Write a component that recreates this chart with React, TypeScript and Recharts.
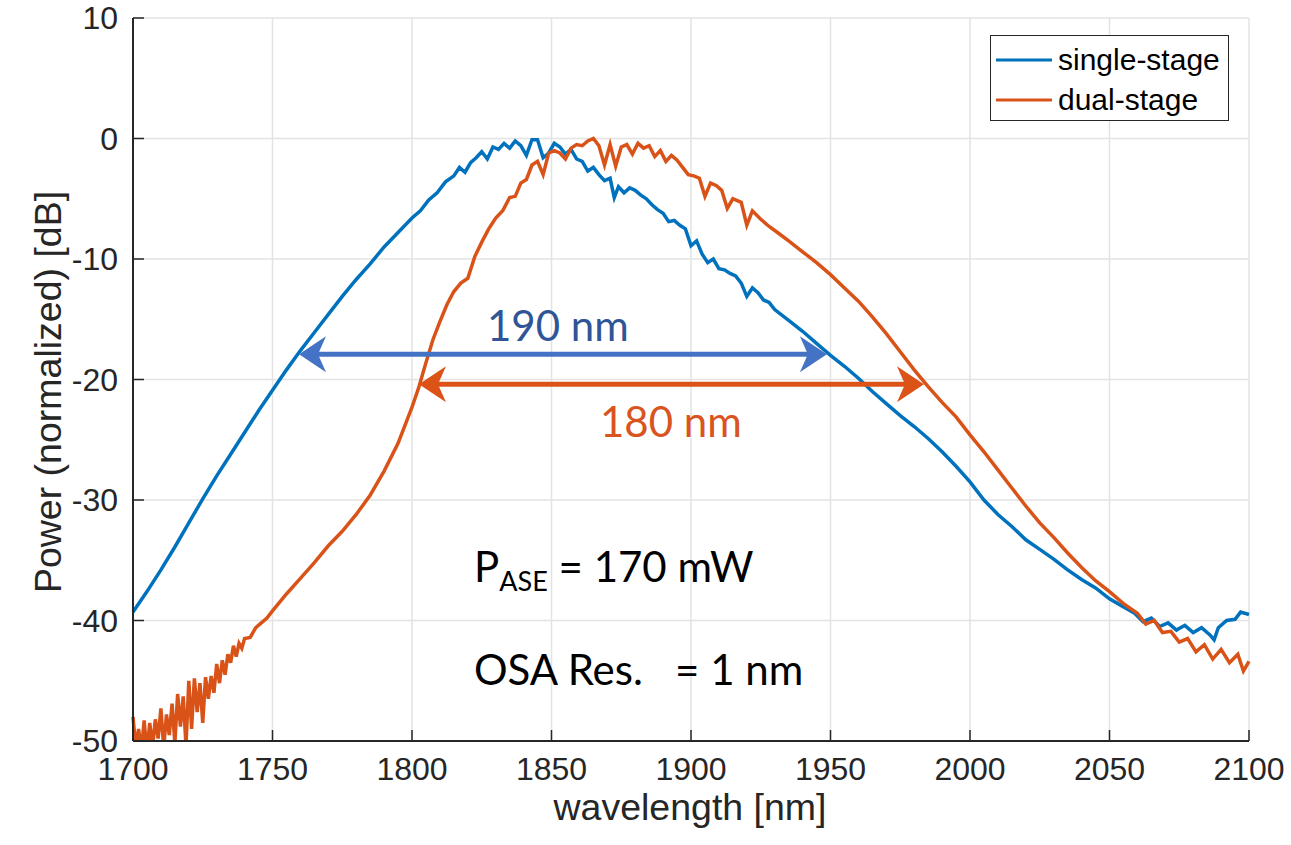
import React from "react";
import { LineChart, Line, XAxis, YAxis, CartesianGrid, ReferenceLine } from "recharts";

const xTicks = [1700, 1750, 1800, 1850, 1900, 1950, 2000, 2050, 2100];
const yTicks = [-50, -40, -30, -20, -10, 0, 10];

// [wavelength nm, power dB]
const singleStage: [number, number][] = [
  [1700, -39.3], [1705, -37.6], [1710, -35.8], [1715, -33.9], [1720, -31.9], [1725, -29.9],
  [1730, -28.0], [1735, -26.2], [1740, -24.4], [1745, -22.6], [1750, -20.9], [1755, -19.2],
  [1760, -17.6], [1765, -16.1], [1770, -14.6], [1775, -13.1], [1780, -11.7], [1785, -10.4],
  [1790, -9.0], [1795, -7.8], [1800, -6.6], [1803, -6.0], [1806, -5.1], [1809, -4.5],
  [1812, -3.6], [1815, -3.1], [1817, -2.4], [1819, -2.8], [1821, -2.0], [1823, -1.6],
  [1825, -1.1], [1827, -1.7], [1829, -0.7], [1831, -0.9], [1833, -0.4], [1835, -0.8],
  [1837, -0.2], [1839, -0.6], [1841, -1.4], [1843, -0.1], [1845, -0.1], [1847, -1.6],
  [1849, -1.2], [1851, -0.4], [1853, -0.7], [1855, -1.3], [1857, -0.9], [1859, -1.7],
  [1861, -1.9], [1863, -2.7], [1865, -2.4], [1867, -3.0], [1869, -3.5], [1871, -3.3],
  [1872.5, -4.9], [1874, -4.0], [1876, -4.5], [1878, -4.1], [1880, -4.3], [1882, -4.7],
  [1884, -5.0], [1886, -5.5], [1888, -5.9], [1890, -6.2], [1892, -6.9], [1894, -6.8],
  [1896, -7.2], [1898, -7.5], [1900, -8.9], [1902, -8.5], [1904, -9.6], [1906, -10.3],
  [1908, -10.0], [1910, -10.8], [1912, -10.9], [1914, -11.2], [1916, -11.4], [1918, -12.0],
  [1920, -13.1], [1922, -12.4], [1924, -12.8], [1926, -13.4], [1928, -13.6], [1930, -14.2],
  [1935, -15.1], [1940, -16.0], [1945, -17.0], [1950, -18.0], [1955, -18.9], [1960, -19.9],
  [1965, -21.0], [1970, -22.0], [1975, -23.0], [1980, -23.9], [1985, -24.9], [1990, -26.0],
  [1995, -27.2], [2000, -28.5], [2005, -30.0], [2010, -31.2], [2015, -32.2], [2020, -33.3],
  [2025, -34.1], [2030, -34.9], [2035, -35.8], [2040, -36.6], [2045, -37.3], [2050, -38.2],
  [2053, -38.6], [2056, -39.0], [2059, -39.4], [2062, -40.1], [2065, -39.8], [2068, -40.5],
  [2071, -40.2], [2074, -40.8], [2077, -40.4], [2080, -41.0], [2083, -40.6], [2086, -41.2],
  [2087.5, -41.6], [2089, -40.6], [2092, -40.0], [2095, -39.9], [2097, -39.3], [2100, -39.5],
];

const dualStage: [number, number][] = [
  [1700, -48.0], [1701, -50.5], [1702, -49.0], [1703, -50.8], [1704, -48.3], [1705, -51.0],
  [1706, -48.5], [1707, -50.5], [1708, -48.2], [1709, -49.8], [1710, -47.3], [1711, -50.6],
  [1712, -47.8], [1713, -49.5], [1714, -46.9], [1715, -50.2], [1716, -46.1], [1717, -48.8],
  [1718, -46.3], [1719, -50.4], [1720, -45.0], [1721, -49.0], [1722, -44.8], [1723, -47.6],
  [1724, -45.2], [1725, -48.5], [1726, -44.7], [1727, -46.5], [1728, -44.6], [1729, -46.0],
  [1730, -43.6], [1731, -45.2], [1732, -43.3], [1733, -44.5], [1734, -42.8], [1735, -43.5],
  [1736, -42.1], [1737, -43.0], [1738, -41.9], [1739, -42.3], [1740, -41.5], [1742, -41.4],
  [1744, -40.6], [1746, -40.2], [1748, -39.8], [1750, -39.2], [1755, -37.8], [1760, -36.5],
  [1765, -35.2], [1770, -33.8], [1775, -32.6], [1780, -31.2], [1785, -29.6], [1790, -27.6],
  [1795, -25.3], [1800, -22.3], [1802.5, -20.6], [1805, -18.6], [1807.5, -16.7], [1810, -15.2],
  [1812.5, -13.8], [1815, -12.7], [1817.5, -12.0], [1820, -11.6], [1822.5, -9.8], [1825, -8.6],
  [1827.5, -7.5], [1830, -6.6], [1832.5, -6.0], [1835, -4.9], [1837, -4.8], [1839, -3.7],
  [1841, -3.4], [1843, -2.2], [1845, -1.9], [1847, -3.0], [1849, -1.2], [1851, -1.0],
  [1853, -1.2], [1855, -1.7], [1857, -0.8], [1859, -0.5], [1861, -0.6], [1863, -0.2],
  [1865, 0.0], [1867, -0.6], [1869, -2.2], [1871, -0.5], [1873, -2.3], [1875, -0.7],
  [1877, -0.5], [1879, -1.3], [1881, -0.4], [1883, -0.8], [1885, -0.6], [1887, -1.5],
  [1889, -1.0], [1891, -1.9], [1893, -1.4], [1895, -1.8], [1897, -2.4], [1899, -3.0],
  [1901, -3.1], [1903, -3.3], [1905, -4.8], [1907, -3.7], [1909, -3.9], [1911, -4.3],
  [1913, -5.8], [1915, -5.0], [1918, -5.3], [1920, -7.2], [1922, -6.0], [1925, -6.7],
  [1928, -7.3], [1931, -7.8], [1935, -8.5], [1940, -9.4], [1945, -10.3], [1950, -11.3],
  [1955, -12.4], [1960, -13.5], [1965, -14.8], [1970, -16.2], [1975, -17.7], [1980, -19.2],
  [1985, -20.6], [1990, -21.9], [1995, -23.1], [2000, -24.6], [2005, -26.0], [2010, -27.5],
  [2015, -29.0], [2020, -30.5], [2025, -31.9], [2030, -33.1], [2035, -34.4], [2040, -35.6],
  [2045, -36.7], [2050, -37.6], [2055, -38.6], [2060, -39.4], [2063, -40.3], [2066, -40.0],
  [2069, -41.0], [2072, -40.9], [2075, -41.8], [2078, -41.5], [2081, -42.6], [2084, -42.0],
  [2087, -43.2], [2090, -42.4], [2093, -43.5], [2096, -42.8], [2098, -44.2], [2100, -43.4],
];

// bandwidth arrows: [from nm, to nm, level dB]
const singleSpan = [1759.5, 1948.7, -17.9];
const dualSpan = [1802.5, 1983.5, -20.4];

const BLUE = "#0072BD";
const ORANGE = "#D95319";
const AXIS = "#262626";
const FONT = "'Liberation Sans', Arial, sans-serif";
const NOTE_FONT = "Lato, 'Open Sans', sans-serif";

const singleData = singleStage.map(([nm, db]) => ({ nm, db }));
const dualData = dualStage.map(([nm, db]) => ({ nm, db }));

function XTick({ x, y, payload }: any) {
  return (
    <g>
      <line x1={x} y1={y} x2={x} y2={y - 11} stroke={AXIS} strokeWidth={1.5} />
      <text x={x} y={y + 39} textAnchor="middle" fontSize={32} fontFamily={FONT} fill={AXIS}>
        {payload.value}
      </text>
    </g>
  );
}

function YTick({ x, y, payload }: any) {
  return (
    <g>
      <line x1={x} y1={y} x2={x + 11} y2={y} stroke={AXIS} strokeWidth={1.5} />
      <text x={x - 15} y={y + 11} textAnchor="end" fontSize={32} fontFamily={FONT} fill={AXIS}>
        {payload.value}
      </text>
    </g>
  );
}

const arrowShape = (color: string) => (p: any) => {
  const { x1, y1, x2 } = p;
  const head = (tx: number, dir: number) =>
    `${tx},${y1} ${tx - dir * 27},${y1 - 18} ${tx - dir * 19},${y1} ${tx - dir * 27},${y1 + 18}`;
  return (
    <g>
      <line x1={x1 + 16} y1={y1} x2={x2 - 16} y2={y1} stroke={color} strokeWidth={5} />
      <polygon points={head(x2, 1)} fill={color} />
      <polygon points={head(x1, -1)} fill={color} />
    </g>
  );
};

export default function App() {
  return (
    <div style={{ position: "absolute", left: 0, top: 0, width: 1291, height: 845, background: "#fff" }}>
      <LineChart width={1291} height={845} margin={{ top: 18, right: 42, bottom: 0, left: 0 }}>
        <CartesianGrid stroke="#e3e3e3" strokeWidth={1.5} />
        <XAxis
          dataKey="nm"
          type="number"
          domain={[1700, 2100]}
          ticks={xTicks}
          height={104}
          tickSize={0}
          tickMargin={0}
          tick={<XTick />}
          axisLine={{ stroke: AXIS, strokeWidth: 2 }}
          allowDuplicatedCategory={false}
        />
        <YAxis
          type="number"
          domain={[-50, 10]}
          ticks={yTicks}
          width={133}
          tickSize={0}
          tickMargin={0}
          tick={<YTick />}
          axisLine={{ stroke: AXIS, strokeWidth: 2 }}
          allowDataOverflow
        />
        <Line data={singleData} dataKey="db" stroke={BLUE} strokeWidth={3.5} dot={false} isAnimationActive={false} />
        <Line data={dualData} dataKey="db" stroke={ORANGE} strokeWidth={3.5} dot={false} isAnimationActive={false} />
        <ReferenceLine
          segment={[{ x: singleSpan[0], y: singleSpan[2] }, { x: singleSpan[1], y: singleSpan[2] }]}
          shape={arrowShape("#4472C4")}
        />
        <ReferenceLine
          segment={[{ x: dualSpan[0], y: dualSpan[2] }, { x: dualSpan[1], y: dualSpan[2] }]}
          shape={arrowShape("#DC5318")}
        />
      </LineChart>
      <svg width={1291} height={845} style={{ position: "absolute", left: 0, top: 0, pointerEvents: "none" }}>
        <text x={690} y={820} textAnchor="middle" fontSize={37.5} fontFamily={FONT} fill={AXIS}>
          wavelength [nm]
        </text>
        <text
          transform="translate(61,392) rotate(-90)"
          textAnchor="middle"
          fontSize={37.5}
          fontFamily={FONT}
          fill={AXIS}
        >
          Power (normalized) [dB]
        </text>
        <text x={487} y={341} fontSize={42} fontFamily={NOTE_FONT} fill="#2F5597">190 nm</text>
        <text x={600} y={437} fontSize={42} fontFamily={NOTE_FONT} fill="#D9541E">180 nm</text>
        <text x={474} y={582} fontSize={42} fontFamily={NOTE_FONT} fill="#000">
          P<tspan fontSize={27} dy={9}>ASE</tspan>
          <tspan dy={-9}> = 170 mW</tspan>
        </text>
        <text x={474} y={685} fontSize={42} fontFamily={NOTE_FONT} fill="#000" style={{ whiteSpace: "pre" }}>
          {"OSA Res.   = 1 nm"}
        </text>
        <rect x={990.5} y={35.5} width={238} height={85} fill="#fff" stroke={AXIS} strokeWidth={1} />
        <line x1={996} y1={60} x2={1052} y2={60} stroke={BLUE} strokeWidth={3} />
        <line x1={996} y1={100} x2={1052} y2={100} stroke={ORANGE} strokeWidth={3} />
        <text x={1058} y={70} fontSize={30} fontFamily={FONT} fill="#000">single-stage</text>
        <text x={1058} y={110} fontSize={30} fontFamily={FONT} fill="#000">dual-stage</text>
      </svg>
    </div>
  );
}
